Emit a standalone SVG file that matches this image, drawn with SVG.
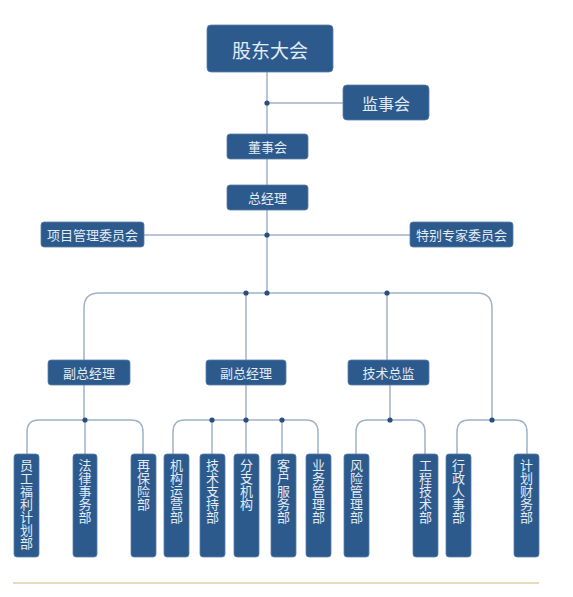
<svg xmlns="http://www.w3.org/2000/svg" width="573" height="597" viewBox="0 0 573 597">
<style>
.box{fill:#2c5a8d;stroke:#5a7fa8;stroke-width:0.8}
.t{font-family:"Noto Sans CJK SC","Noto Sans",sans-serif;fill:#e3ebf4;text-anchor:middle;dominant-baseline:central}
.v{font-family:"Noto Sans CJK SC","Noto Sans",sans-serif;fill:#e3ebf4;font-size:13px;writing-mode:vertical-rl;text-anchor:start}
.ln{fill:none;stroke:#9fb2c6;stroke-width:1.5}
.dot{fill:#2a4f7c}
</style>
<rect width="573" height="597" fill="#ffffff"/>
<g id="connectors">
<path class="ln" d="M267 72 V293"/>
<path class="ln" d="M267 103 H343"/>
<path class="ln" d="M144 235 H410"/>
<path class="ln" d="M84 360 V308 Q84 293 99 293 H477 Q492 293 492 308 V420"/>
<path class="ln" d="M246 293 V454"/>
<path class="ln" d="M387 293 V360"/>
<path class="ln" d="M84 385 V420"/>
<path class="ln" d="M27 454 V432 Q27 420 39 420 H131 Q143 420 143 432 V454"/>
<path class="ln" d="M85 420 V454"/>
<path class="ln" d="M173 454 V432 Q173 420 185 420 H306 Q318 420 318 432 V454"/>
<path class="ln" d="M212 420 V454"/>
<path class="ln" d="M282 420 V454"/>
<path class="ln" d="M390 385 V420"/>
<path class="ln" d="M356 454 V432 Q356 420 368 420 H413 Q425 420 425 432 V454"/>
<path class="ln" d="M457 454 V432 Q457 420 469 420 H515 Q527 420 527 432 V454"/>
<circle class="dot" cx="267" cy="103" r="2.6"/>
<circle class="dot" cx="267" cy="235" r="2.6"/>
<circle class="dot" cx="246" cy="293" r="2.6"/>
<circle class="dot" cx="267" cy="293" r="2.6"/>
<circle class="dot" cx="387" cy="293" r="2.6"/>
<circle class="dot" cx="85" cy="420" r="2.6"/>
<circle class="dot" cx="212" cy="420" r="2.6"/>
<circle class="dot" cx="246" cy="420" r="2.6"/>
<circle class="dot" cx="282" cy="420" r="2.6"/>
<circle class="dot" cx="390" cy="420" r="2.6"/>
<circle class="dot" cx="492" cy="420" r="2.6"/>
</g>
<g id="n-gudong"><rect class="box" x="207" y="25" width="126" height="47" rx="4"/><text class="t" x="270" y="49" font-size="19">股东大会</text></g>
<g id="n-jianshi"><rect class="box" x="343" y="85" width="86" height="35" rx="4"/><text class="t" x="386" y="102.5" font-size="16">监事会</text></g>
<g id="n-dongshi"><rect class="box" x="227" y="134" width="81" height="25" rx="3"/><text class="t" x="267.5" y="146.5" font-size="13">董事会</text></g>
<g id="n-zongjingli"><rect class="box" x="227" y="185" width="81" height="25" rx="3"/><text class="t" x="267.5" y="197.5" font-size="13">总经理</text></g>
<g id="n-xiangmu"><rect class="box" x="41" y="222" width="103" height="25" rx="3"/><text class="t" x="92.5" y="234.5" font-size="13">项目管理委员会</text></g>
<g id="n-tebie"><rect class="box" x="410" y="222" width="103" height="25" rx="3"/><text class="t" x="461.5" y="234.5" font-size="13">特别专家委员会</text></g>
<g id="n-fuzong1"><rect class="box" x="48" y="360" width="82" height="25" rx="3"/><text class="t" x="89" y="372.5" font-size="13">副总经理</text></g>
<g id="n-fuzong2"><rect class="box" x="206" y="360" width="80" height="25" rx="3"/><text class="t" x="246" y="372.5" font-size="13">副总经理</text></g>
<g id="n-jishu"><rect class="box" x="348" y="360" width="81" height="25" rx="3"/><text class="t" x="388.5" y="372.5" font-size="13">技术总监</text></g>
<g id="n-yuangong"><rect class="box" x="14" y="454" width="25" height="103" rx="3"/><text class="v" x="26.5" y="459">员工福利计划部</text></g>
<g id="n-falv"><rect class="box" x="73" y="454" width="24" height="103" rx="3"/><text class="v" x="85" y="459">法律事务部</text></g>
<g id="n-zaibao"><rect class="box" x="131" y="454" width="25" height="103" rx="3"/><text class="v" x="143.5" y="459">再保险部</text></g>
<g id="n-jigou"><rect class="box" x="164" y="454" width="25" height="103" rx="3"/><text class="v" x="176.5" y="459">机构运营部</text></g>
<g id="n-jszc"><rect class="box" x="200" y="454" width="25" height="103" rx="3"/><text class="v" x="212.5" y="459">技术支持部</text></g>
<g id="n-fenzhi"><rect class="box" x="234" y="454" width="25" height="103" rx="3"/><text class="v" x="246.5" y="459">分支机构</text></g>
<g id="n-kehu"><rect class="box" x="271" y="454" width="25" height="103" rx="3"/><text class="v" x="283.5" y="459">客户服务部</text></g>
<g id="n-yewu"><rect class="box" x="306" y="454" width="25" height="103" rx="3"/><text class="v" x="318.5" y="459">业务管理部</text></g>
<g id="n-fengxian"><rect class="box" x="344" y="454" width="25" height="103" rx="3"/><text class="v" x="356.5" y="459">风险管理部</text></g>
<g id="n-gongcheng"><rect class="box" x="413" y="454" width="25" height="103" rx="3"/><text class="v" x="425.5" y="459">工程技术部</text></g>
<g id="n-xingzheng"><rect class="box" x="446" y="454" width="25" height="103" rx="3"/><text class="v" x="458.5" y="459">行政人事部</text></g>
<g id="n-jihua"><rect class="box" x="514" y="454" width="25" height="103" rx="3"/><text class="v" x="526.5" y="459">计划财务部</text></g>
<line x1="13" y1="583" x2="539" y2="583" stroke="#d2b679" stroke-width="1.2"/>
</svg>
